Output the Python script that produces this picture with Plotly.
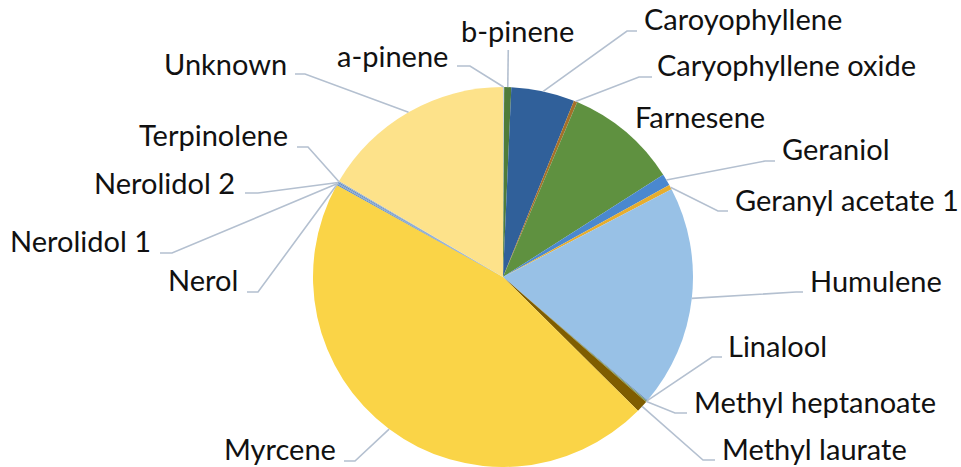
import math
import plotly.graph_objects as go

# ---------------- data ----------------
compounds = ["a-pinene", "b-pinene", "Caroyophyllene", "Caryophyllene oxide", "Farnesene",
             "Geraniol", "Geranyl acetate 1", "Humulene", "Linalool", "Methyl heptanoate",
             "Methyl laurate", "Myrcene", "Nerol", "Nerolidol 1", "Nerolidol 2",
             "Terpinolene", "Unknown"]
percent = [0.1, 0.6, 5.4, 0.3, 9.6,
           1.0, 0.4, 18.9, 0.1, 0.1,
           1.0, 45.7, 0.1, 0.1, 0.1,
           0.1, 16.6]

# ---------------- styles / layout ----------------
colors = ["#c9d3de", "#4e7b3a", "#30609a", "#a5702a", "#5f9140",
          "#4a88cf", "#e6ad2e", "#98c1e6", "#6b8fc0", "#7a9a5a",
          "#7f5d00", "#fad447", "#5a8ac6", "#8aa4c8", "#5a8ac6",
          "#9ab0cc", "#fde28a"]

W, H = 961, 467
CX, CY, R = 503, 277, 190   # pie centre / radius in pixels

# label placement: (anchor x, text centre y, xanchor, leader: None | "vert" | (x0, x1, y))
label_pos = {
    "a-pinene":            (450, 55, "right", (457, 470, 66)),
    "b-pinene":            (517, 30, "center", "vert"),
    "Caroyophyllene":      (642, 19, "left", (637, 627, 31)),
    "Caryophyllene oxide": (655, 65, "left", (652, 639, 77)),
    "Farnesene":           (633, 116, "left", None),
    "Geraniol":            (780, 149, "left", (775, 765, 161)),
    "Geranyl acetate 1":   (733, 199, "left", (728, 718, 211)),
    "Humulene":            (808, 280, "left", (803, 796, 292)),
    "Linalool":            (726, 345, "left", (722, 712, 357)),
    "Methyl heptanoate":   (692, 401, "left", (687, 675, 413)),
    "Methyl laurate":      (720, 448, "left", (715, 703, 460)),
    "Myrcene":             (338, 448, "right", (344, 355, 461)),
    "Nerol":               (240, 279, "right", (247, 258, 292)),
    "Nerolidol 1":         (153, 240, "right", (160, 172, 253)),
    "Nerolidol 2":         (237, 182, "right", (245, 258, 193)),
    "Terpinolene":         (290, 135, "right", (297, 308, 147)),
    "Unknown":             (289, 63, "right", (295, 305, 74)),
}

def px(x):
    return x / W

def py(y):
    return 1 - y / H

fig = go.Figure(go.Pie(
    labels=compounds,
    values=percent,
    sort=False,
    direction="clockwise",
    rotation=0,
    marker=dict(colors=colors, line=dict(width=0)),
    textinfo="none",
    hoverinfo="label+percent",
    domain=dict(x=[px(CX - R), px(CX + R)], y=[py(CY + R), py(CY - R)]),
    showlegend=False,
))

total = sum(percent)
cum = 0.0
shapes = []
annotations = []
for name, v in zip(compounds, percent):
    mid = math.radians(360 * (cum + v / 2) / total)
    cum += v
    ax = CX + R * math.sin(mid)
    ay = CY - R * math.cos(mid)
    lx, ly, anchor, leader = label_pos[name]
    annotations.append(dict(
        x=px(lx), y=py(ly), xref="paper", yref="paper",
        text=name, showarrow=False, xanchor=anchor, yanchor="middle",
        font=dict(family="Lato", size=29, color="#111111"),
    ))
    if leader is None:
        continue
    if leader == "vert":
        path = f"M {px(ax + 0.5)} {py(50)} L {px(ax)} {py(ay)}"
    else:
        x0, x1, yy = leader
        path = f"M {px(x0)} {py(yy)} L {px(x1)} {py(yy)} L {px(ax)} {py(ay)}"
    shapes.append(dict(type="path", path=path, xref="paper", yref="paper",
                       line=dict(color="#b4c0d0", width=1.6)))

fig.update_layout(
    width=W, height=H,
    margin=dict(l=0, r=0, t=0, b=0),
    paper_bgcolor="white", plot_bgcolor="white",
    shapes=shapes, annotations=annotations,
)

fig.write_html("out.html",
               config={"displayModeBar": False},
               post_script="document.body.style.margin='0';document.body.style.overflow='hidden';")
